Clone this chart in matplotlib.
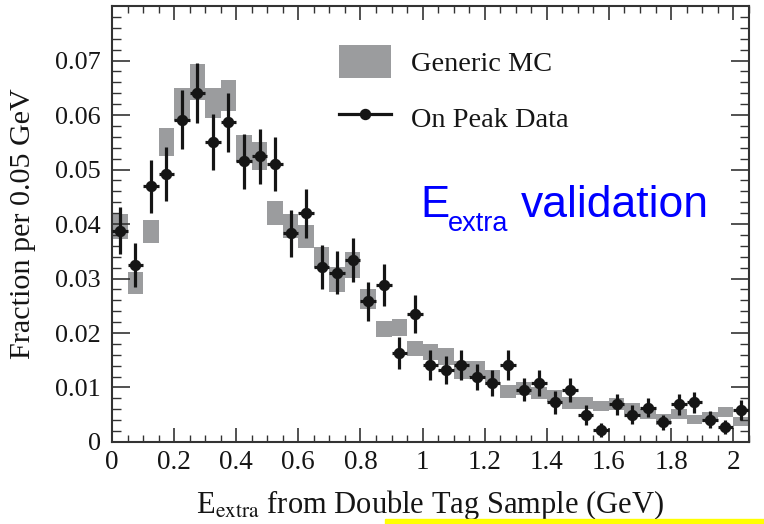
import numpy as np
import matplotlib
matplotlib.use("Agg")
import matplotlib.pyplot as plt
from matplotlib.patches import Patch, Rectangle
from matplotlib.lines import Line2D
from matplotlib.ticker import MultipleLocator, FuncFormatter

# binning: 41 bins of 0.05 GeV from 0 to 2.05
bin_width = 0.05
n_bins = 41
centers = bin_width * (np.arange(n_bins) + 0.5)

# On Peak Data (fraction per bin) and its errors
data_val = [0.0388, 0.0325, 0.0469, 0.0492, 0.0591, 0.0641, 0.0550, 0.0587, 0.0515, 0.0524,
            0.0510, 0.0383, 0.0420, 0.0321, 0.0311, 0.0334, 0.0258, 0.0288, 0.0163, 0.0235,
            0.0141, 0.0132, 0.0141, 0.0119, 0.0109, 0.0141, 0.0096, 0.0109, 0.0073, 0.0096,
            0.0050, 0.0022, 0.0069, 0.0050, 0.0063, 0.0036, 0.0069, 0.0073, 0.0041, 0.0028,
            0.0059]
data_err = [0.0043, 0.0040, 0.0048, 0.0049, 0.0054, 0.0055, 0.0051, 0.0054, 0.0050, 0.0050,
            0.0050, 0.0043, 0.0045, 0.0040, 0.0039, 0.0040, 0.0036, 0.0038, 0.0029, 0.0035,
            0.0027, 0.0026, 0.0027, 0.0024, 0.0024, 0.0027, 0.0021, 0.0024, 0.0021, 0.0022,
            0.0018, 0.0012, 0.0019, 0.0017, 0.0018, 0.0014, 0.0019, 0.0019, 0.0015, 0.0013,
            0.0018]

# Generic MC (central value and half height of the box)
mc_val = [0.0395, 0.0292, 0.0387, 0.0551, 0.0619, 0.0661, 0.0622, 0.0636, 0.0538, 0.0525,
          0.0420, 0.0396, 0.0377, 0.0338, 0.0299, 0.0325, 0.0262, 0.0207, 0.0210, 0.0172,
          0.0165, 0.0157, 0.0132, 0.0134, 0.0118, 0.0092, 0.0098, 0.0090, 0.0084, 0.0072,
          0.0072, 0.0066, 0.0069, 0.0061, 0.0052, 0.0042, 0.0052, 0.0041, 0.0046, 0.0055,
          0.0037]
mc_err = [0.0023, 0.0020, 0.0021, 0.0026, 0.0030, 0.0033, 0.0028, 0.0028, 0.0025, 0.0025,
          0.0022, 0.0022, 0.0021, 0.0019, 0.0023, 0.0024, 0.0018, 0.0015, 0.0015, 0.0014,
          0.0015, 0.0016, 0.0016, 0.0014, 0.0014, 0.0012, 0.0012, 0.0011, 0.0011, 0.0011,
          0.0011, 0.0009, 0.0011, 0.0010, 0.0009, 0.0010, 0.0009, 0.0008, 0.0009, 0.0009,
          0.0008]

mc_val = np.array(mc_val)
mc_err = np.array(mc_err)

plt.rcParams['font.family'] = ['Liberation Serif', 'DejaVu Serif']

ink = '#151515'
grey = '#9b9c9e'
blue = '#0000ff'

fig = plt.figure(figsize=(7.64, 5.24), dpi=100)
ax = fig.add_axes([0.1466, 0.1565, 0.8334, 0.832])

# MC boxes
ax.bar(centers, 2 * mc_err, bottom=mc_val - mc_err, width=bin_width,
       color=grey, edgecolor='none', zorder=1)
# data points
ax.errorbar(centers, data_val, xerr=bin_width / 2, yerr=data_err, fmt='o',
            color=ink, ms=7.2, elinewidth=2.3, capsize=0, zorder=3)

ax.set_xlim(0, 2.05)
ax.set_ylim(0, 0.08)
ax.xaxis.set_major_locator(MultipleLocator(0.2))
ax.xaxis.set_minor_locator(MultipleLocator(0.05))
ax.yaxis.set_major_locator(MultipleLocator(0.01))
ax.yaxis.set_minor_locator(MultipleLocator(0.002))

def tick_fmt(v, p):
    if v > 0.075 and v < 0.085:
        return ''
    return '%g' % round(v, 4)

ax.xaxis.set_major_formatter(FuncFormatter(tick_fmt))
ax.yaxis.set_major_formatter(FuncFormatter(tick_fmt))

ax.tick_params(which='both', direction='in', top=True, right=True, colors='#333333',
               labelcolor=ink, labelsize=19.5)
ax.tick_params(axis='y', which='major', length=13, width=1.2, pad=8, labelsize=18.8)
ax.tick_params(axis='y', which='minor', length=6.5, width=1.0)
ax.tick_params(axis='x', which='major', length=10, width=1.2, pad=6)
ax.tick_params(axis='x', which='minor', length=5, width=1.0)
for s in ax.spines.values():
    s.set_linewidth(1.5)
    s.set_color('#333333')

ax.set_ylabel('Fraction per 0.05 GeV', fontsize=21.7, color=ink, labelpad=14)
ax.set_xlabel(r'E$_{\mathrm{extra}}$ from Double Tag Sample (GeV)', fontsize=22,
              color=ink, labelpad=9, math_fontfamily='stix')

handles = [Patch(facecolor=grey, edgecolor='none'),
           Line2D([], [], color=ink, lw=2.3, marker='o', ms=7.2)]
ax.legend(handles, ['Generic MC', 'On Peak Data'], loc='upper left',
          bbox_to_anchor=(0.316, 0.97), frameon=False, fontsize=20.4,
          handlelength=1.84, handleheight=1.45, handletextpad=0.7,
          labelspacing=0.8, labelcolor=ink)

# blue "E_extra validation" note, subscript placed by hand
ax.text(0.484, 0.517, 'E', transform=ax.transAxes, family='Liberation Sans',
        fontsize=31.5, color=blue, va='baseline')
ax.text(0.527, 0.483, 'extra', transform=ax.transAxes, family='Liberation Sans',
        fontsize=19.5, color=blue, va='baseline')
ax.text(0.642, 0.517, 'validation', transform=ax.transAxes, family='Liberation Sans',
        fontsize=32, color=blue, va='baseline')

# yellow strip at the bottom of the slide
fig.patches.append(Rectangle((385 / 764, 0), 1 - 385 / 764, 5 / 524,
                             transform=fig.transFigure, color='#ffff00', zorder=0))

fig.savefig('out.png', dpi=100)
